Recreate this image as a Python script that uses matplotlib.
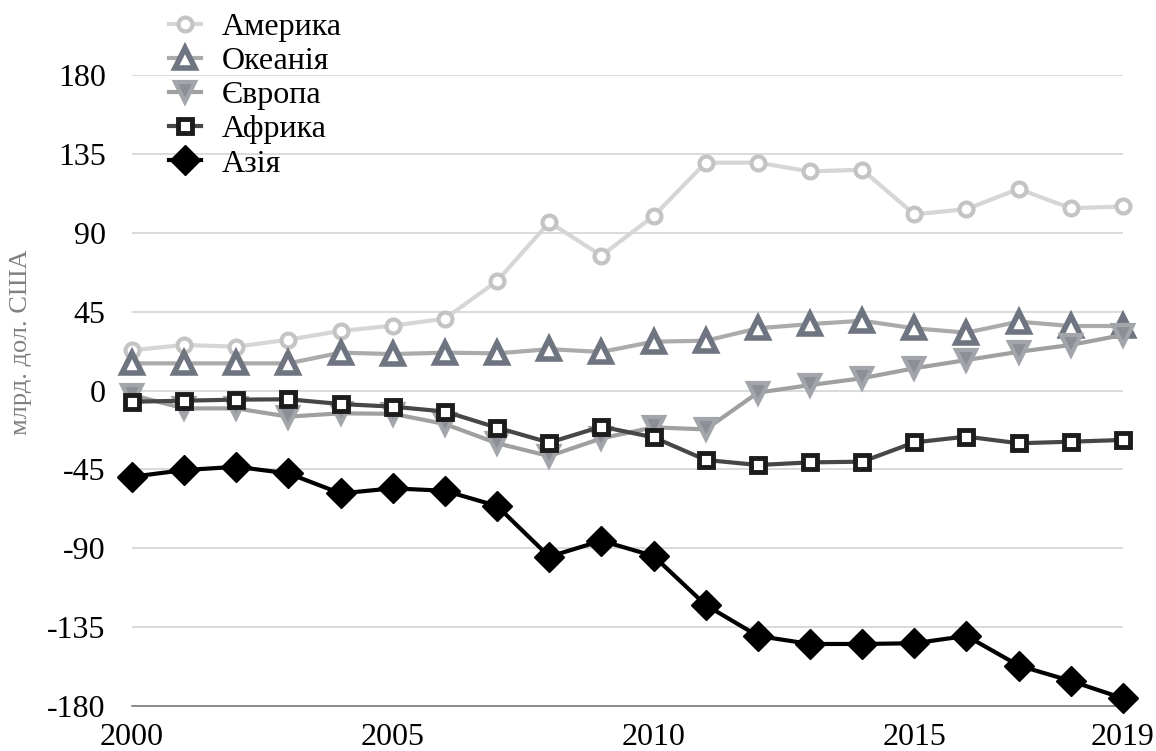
import numpy as np
import matplotlib
matplotlib.use("Agg")
import matplotlib.pyplot as plt

plt.rcParams['font.family'] = ['Liberation Serif', 'DejaVu Serif']

years = list(range(2000, 2020))

# млрд. дол. США
america = [23, 26, 25, 29, 34, 37, 41, 62.5, 96, 77, 99.5, 130, 130, 125, 126, 100.5, 103.5, 115, 104, 105]
oceania = [15.5, 15.5, 15.5, 15.5, 21.6, 20.8, 21.6, 21.2, 23.6, 22, 27.9, 28.4, 35.5, 37.9, 39.8, 35.5, 33, 39.3, 36.8, 36.8]
europe = [-2.6, -10.2, -10.2, -14.9, -13, -13.3, -19.1, -30.1, -37.4, -27.3, -21, -22.2, -1.2, 3.1, 7, 12.7, 17.4, 22.1, 26, 31.7]
africa = [-6.4, -5.8, -5.2, -5, -7.7, -9.2, -12, -21.2, -29.7, -20.6, -26.7, -39.6, -42.5, -41, -40.6, -29.6, -26.3, -30.1, -29.2, -28.2]
asia = [-49.2, -45.4, -43.5, -47.3, -58.7, -55.8, -57.2, -65.9, -94.8, -85.7, -94.4, -122.4, -140, -144.6, -144.6, -144.2, -140, -156.9, -165.7, -175.6]

labels = ['Америка', 'Океанія', 'Європа', 'Африка', 'Азія']
yticks = [-180, -135, -90, -45, 0, 45, 90, 135, 180]
xticks = [2000, 2005, 2010, 2015, 2019]

fig = plt.figure(figsize=(11.56, 7.51), dpi=100)
ax = fig.add_axes([0.1142, 0.0599, 0.8572, 0.8402])

lw = 3.0
ax.plot(years, america, color='#d6d6d6', lw=lw, marker='o', ms=10,
        mfc='white', mec='#c4c4c4', mew=3.0, label=labels[0], clip_on=False, zorder=3)
ax.plot(years, oceania, color='#ababab', lw=lw, marker='^', ms=14,
        mfc='white', mec='#6e7580', mew=4, label=labels[1], clip_on=False, zorder=4)
ax.plot(years, europe, color='#a0a0a0', lw=lw, marker='v', ms=15,
        mfc='#8c9096', mec='#a2a6ab', mew=3, label=labels[2], clip_on=False, zorder=5)
ax.plot(years, africa, color='#474747', lw=lw, marker='s', ms=10,
        mfc='white', mec='#1c1c1c', mew=3.5, label=labels[3], clip_on=False, zorder=6)
ax.plot(years, asia, color='black', lw=lw, marker='D', ms=15,
        mfc='black', mec='black', mew=1, label=labels[4], clip_on=False, zorder=7)

ax.set_xlim(2000, 2019)
ax.set_ylim(-180, 180)
ax.set_yticks(yticks)
ax.set_yticklabels([str(v) for v in yticks])
ax.set_xticks(xticks)
ax.grid(axis='y', color='#d4d4d4', lw=1.2)
ax.set_axisbelow(True)
for s in ['top', 'right', 'left']:
    ax.spines[s].set_visible(False)
ax.spines['bottom'].set_color('#7a7a7a')
ax.spines['bottom'].set_linewidth(1.2)
ax.tick_params(length=0, labelsize=23, colors='black')
ax.tick_params(axis='y', pad=19)
ax.tick_params(axis='x', pad=12)

ax.set_ylabel('млрд. дол. США', fontsize=19, color='#808080')
ax.yaxis.set_label_coords(-0.101, 0.577)

leg = ax.legend(loc='upper left', bbox_to_anchor=(0.037, 1.099), frameon=False,
                fontsize=23, handlelength=1.0, handletextpad=0.65,
                labelspacing=0.15, borderaxespad=0, borderpad=0)

fig.savefig('out.png', dpi=100)
